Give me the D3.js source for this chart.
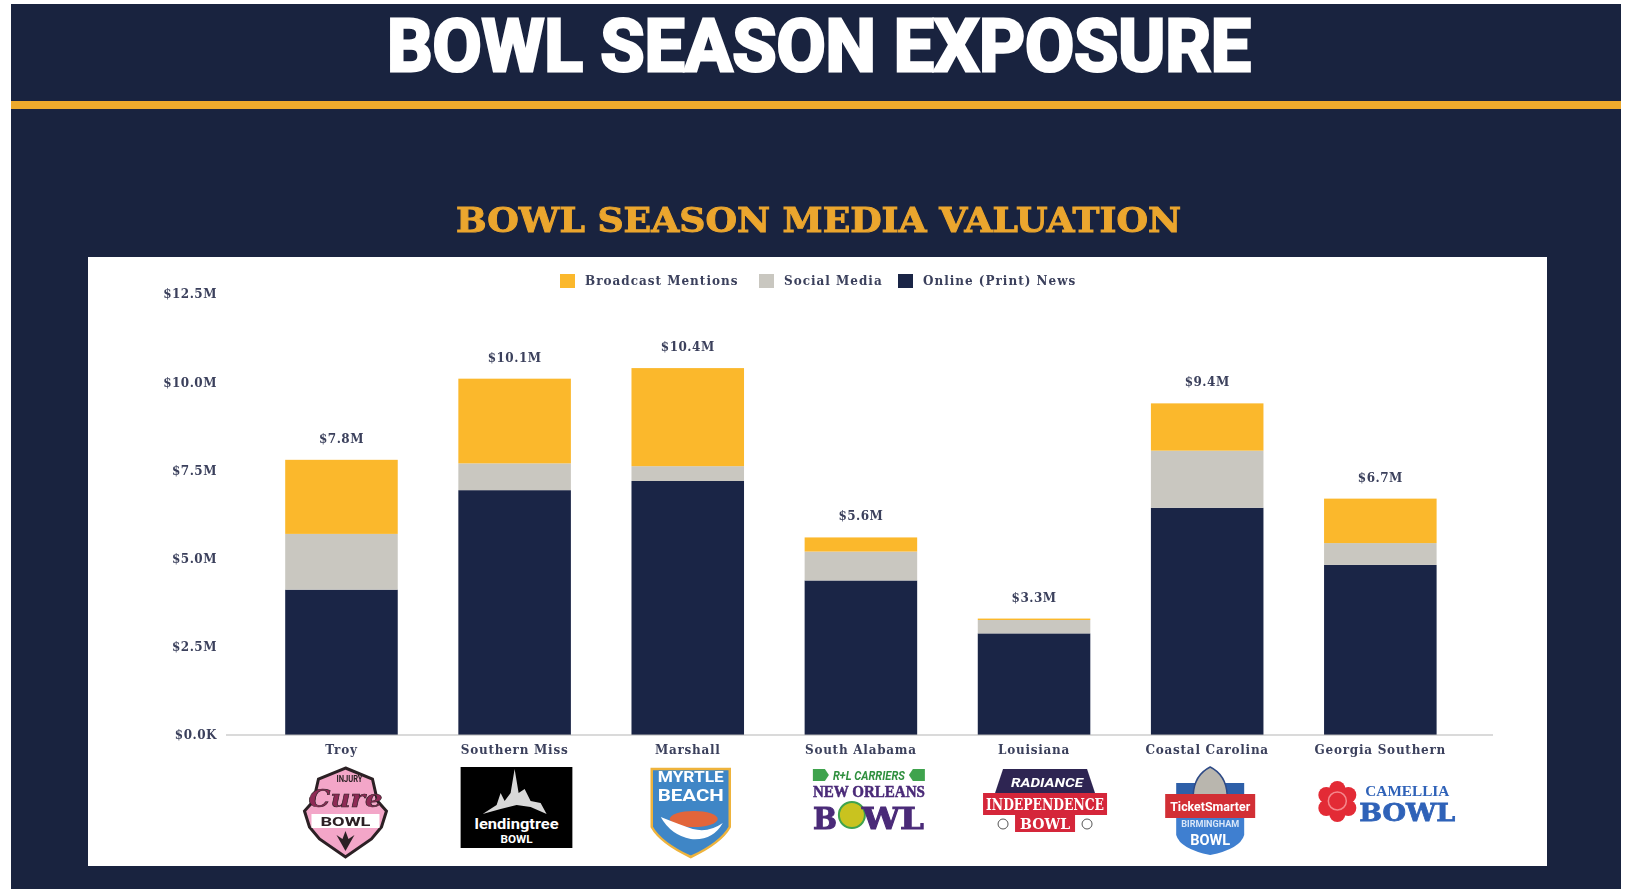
<!DOCTYPE html>
<html>
<head>
<meta charset="utf-8">
<script src="https://cdn.jsdelivr.net/npm/d3@7"></script>
<style>
  html, body { margin: 0; padding: 0; background: #fff; }
  svg { display: block; filter: blur(0.4px); }
  text { font-family: "DejaVu Serif", serif; }
</style>
</head>
<body>
<div id="chart"></div>
<script>
var categories = ["Troy", "Southern Miss", "Marshall", "South Alabama", "Louisiana", "Coastal Carolina", "Georgia Southern"];
var online = [4.12, 6.94, 7.2, 4.38, 2.88, 6.44, 4.82];
var social = [1.58, 0.76, 0.42, 0.82, 0.38, 1.62, 0.62];
var broadcast = [2.1, 2.4, 2.78, 0.4, 0.04, 1.34, 1.26];
var totalLabels = ["$7.8M", "$10.1M", "$10.4M", "$5.6M", "$3.3M", "$9.4M", "$6.7M"];
var seriesNames = ["Online (Print) News", "Social Media", "Broadcast Mentions"];
var legendOrder = ["Broadcast Mentions", "Social Media", "Online (Print) News"];
var tickValues = [0, 2.5, 5, 7.5, 10, 12.5];
var tickLabels = ["$0.0K", "$2.5M", "$5.0M", "$7.5M", "$10.0M", "$12.5M"];

var NAVY = "#19233f", BAR_NAVY = "#1a2546", GOLD = "#fbb82c", GRAY = "#c9c7c0", INK = "#3b405c";

var svg = d3.select("#chart").append("svg").attr("width", 1625).attr("height", 889);

/* Page background */
svg.append("rect").attr("x", 11).attr("y", 4).attr("width", 1610).attr("height", 885).attr("fill", NAVY);
svg.append("rect").attr("x", 11).attr("y", 101).attr("width", 1610).attr("height", 8).attr("fill", "#eeaa2c");
svg.append("rect").attr("x", 88).attr("y", 257).attr("width", 1459).attr("height", 609).attr("fill", "#fff");

svg.append("text").text("BOWL SEASON EXPOSURE")
  .attr("x", 387).attr("y", 70.5)
  .attr("textLength", 864).attr("lengthAdjust", "spacingAndGlyphs")
  .style("font-family", "Roboto").style("font-weight", 700).style("font-size", "72px")
  .attr("fill", "#fff").attr("stroke", "#fff").attr("stroke-width", 3);

svg.append("text").text("BOWL SEASON MEDIA VALUATION")
  .attr("x", 456).attr("y", 232)
  .attr("textLength", 725).attr("lengthAdjust", "spacingAndGlyphs")
  .style("font-weight", 700).style("font-size", "34px")
  .attr("fill", "#eba62e").attr("stroke", "#eba62e").attr("stroke-width", 1);

/* Scales */
var x = d3.scaleBand().domain(categories).range([254.9, 1466.9]).paddingInner(0.35).paddingOuter(0.175);
var y = d3.scaleLinear().domain([0, 12.5]).range([735, 294]);
var color = d3.scaleOrdinal().domain(seriesNames).range([BAR_NAVY, GRAY, GOLD]);

var rows = categories.map(function(c, i) {
  return { cat: c, "Online (Print) News": online[i], "Social Media": social[i], "Broadcast Mentions": broadcast[i], label: totalLabels[i] };
});
var stacked = d3.stack().keys(seriesNames)(rows);

/* Bars */
svg.append("g").selectAll("g").data(stacked).enter().append("g")
  .attr("fill", function(s) { return color(s.key); })
  .selectAll("rect").data(function(s) { return s; }).enter().append("rect")
  .attr("x", function(d) { return x(d.data.cat); })
  .attr("width", x.bandwidth())
  .attr("y", function(d) { return y(d[1]); })
  .attr("height", function(d) { return y(d[0]) - y(d[1]); });

/* Total labels */
svg.append("g").selectAll("text").data(stacked[2]).enter().append("text")
  .attr("x", function(d) { return x(d.data.cat) + x.bandwidth() / 2; })
  .attr("y", function(d) { return y(d[1]) - 17; })
  .attr("text-anchor", "middle")
  .style("font-size", "12px").style("font-weight", 700).style("letter-spacing", "0.5px")
  .attr("fill", INK)
  .text(function(d) { return d.data.label; });

/* Axes */
var yAxis = svg.append("g").attr("transform", "translate(217,0)")
  .call(d3.axisLeft(y).tickValues(tickValues).tickSize(0).tickPadding(0)
    .tickFormat(function(d, i) { return tickLabels[i]; }));
yAxis.select(".domain").remove();
yAxis.selectAll("text").style("font-size", "12px").style("font-weight", 700).attr("fill", INK)
  .style("font-family", '"DejaVu Serif", serif').style("letter-spacing", "0.5px");

var xAxis = svg.append("g").attr("transform", "translate(0,735)")
  .call(d3.axisBottom(x).tickSize(0).tickPadding(10));
xAxis.select(".domain").remove();
xAxis.selectAll("text").style("font-size", "12px").style("font-weight", 700).attr("fill", INK)
  .style("font-family", '"DejaVu Serif", serif').style("letter-spacing", "0.75px");

svg.append("line").attr("x1", 226).attr("x2", 1493).attr("y1", y(0)).attr("y2", y(0))
  .attr("stroke", "#b5b5b5").attr("stroke-width", 1);

/* Legend */
var legendX = d3.scaleOrdinal().domain(legendOrder).range([560, 759, 898]);
var legend = svg.append("g").selectAll("g").data(legendOrder).enter().append("g")
  .attr("transform", function(d) { return "translate(" + legendX(d) + ",274)"; });
legend.append("rect").attr("width", 15).attr("height", 14).attr("fill", function(d) { return color(d); });
legend.append("text").attr("x", 25).attr("y", 11)
  .style("font-size", "12px").style("font-weight", 700).style("letter-spacing", "1px").attr("fill", INK)
  .text(function(d) { return d; });

/* Logos, rough redraws placed under each bar */
function label(g, str, cx, by, size, fill, width, font, style) {
  var t = g.append("text").text(str).attr("x", cx).attr("y", by).attr("text-anchor", "middle")
    .attr("fill", fill).style("font-size", size + "px").style("font-weight", 700)
    .style("font-family", font || "Roboto");
  if (width) t.attr("textLength", width).attr("lengthAdjust", "spacingAndGlyphs");
  if (style) t.style("font-style", style);
  return t;
}
function logoGroup(cat, dx) {
  return svg.append("g").attr("transform", "translate(" + (x(cat) + x.bandwidth() / 2 + dx) + ",767)");
}

function cureLogo(g) {
  g.append("path").attr("d", "M0,1 L27,12 L32,34 L41,44 L36,60 L26,72 L0,90 L-26,72 L-36,60 L-41,44 L-32,34 L-27,12 Z")
    .attr("fill", "#f3a6c8").attr("stroke", "#2b2024").attr("stroke-width", 3);
  label(g, "INJURY", 4, 15, 9, "#2b2024", 26);
  label(g, "Cure", 0, 40, 24, "#8e2a55", 74, '"DejaVu Serif", serif', "italic").attr("stroke", "#2b2024").attr("stroke-width", 0.6);
  g.append("rect").attr("x", -34).attr("y", 47).attr("width", 68).attr("height", 14).attr("fill", "#fff");
  label(g, "BOWL", 0, 59, 13, "#2b2024", 50);
  g.append("path").attr("d", "M0,84 L-9,68 L-3,72 L0,64 L3,72 L9,68 Z").attr("fill", "#2b2024");
}
function lendingLogo(g) {
  g.append("rect").attr("x", -56).attr("y", 0).attr("width", 112).attr("height", 81).attr("fill", "#000");
  g.append("path").attr("d", "M-34,47 L-20,38 L-16,26 L-12,34 L-6,26 L-2,2 L2,26 L8,22 L14,34 L24,36 L30,47 L14,40 L0,38 L-16,42 Z").attr("fill", "#d8d8d8");
  label(g, "lendingtree", 0, 62, 15, "#fff", 84);
  label(g, "BOWL", 0, 76, 10, "#fff", 32);
}
function myrtleLogo(g) {
  g.append("path").attr("d", "M-39,2 L39,2 L39,60 Q30,76 0,90 Q-30,76 -39,60 Z")
    .attr("fill", "#3f86c6").attr("stroke", "#eeb33c").attr("stroke-width", 2.5);
  label(g, "MYRTLE", 0, 15, 15, "#fff", 66);
  label(g, "BEACH", 0, 34, 16, "#fff", 66);
  g.append("ellipse").attr("cx", 3).attr("cy", 52).attr("rx", 24).attr("ry", 8).attr("fill", "#e2653a");
  g.append("path").attr("d", "M-30,50 Q-10,58 2,62 Q18,66 32,56 Q22,74 0,72 Q-20,68 -30,50 Z").attr("fill", "#fff");
}
function newOrleansLogo(g) {
  g.append("path").attr("d", "M-56,2 L-44,2 L-40,8 L-44,14 L-56,14 Z").attr("fill", "#3fa34d");
  g.append("path").attr("d", "M56,2 L44,2 L40,8 L44,14 L56,14 Z").attr("fill", "#3fa34d");
  label(g, "R+L CARRIERS", 0, 13, 12, "#2f8f3e", 72, "Roboto", "italic");
  label(g, "NEW ORLEANS", 0, 30, 16, "#4a2a78", 112, "Liberation Sans Narrow").attr("stroke", "#4a2a78").attr("stroke-width", 0.5);
  label(g, "B", -44, 62, 30, "#4a2a78", 24, '"DejaVu Serif", serif').attr("stroke", "#4a2a78").attr("stroke-width", 1);
  g.append("circle").attr("cx", -17).attr("cy", 48).attr("r", 13).attr("fill", "#c9c31f").attr("stroke", "#3fa34d").attr("stroke-width", 2);
  label(g, "WL", 24, 62, 30, "#4a2a78", 62, '"DejaVu Serif", serif').attr("stroke", "#4a2a78").attr("stroke-width", 1);
}
function independenceLogo(g) {
  g.append("path").attr("d", "M-42,2 L42,2 L50,26 L-50,26 Z").attr("fill", "#2e2552");
  label(g, "RADIANCE", 2, 20, 12, "#fff", 72, "Roboto", "italic");
  g.append("rect").attr("x", -62).attr("y", 26).attr("width", 124).attr("height", 22).attr("fill", "#d5263a");
  label(g, "INDEPENDENCE", 0, 43, 17, "#fff", 118, '"DejaVu Serif", serif');
  g.append("rect").attr("x", -30).attr("y", 48).attr("width", 60).attr("height", 17).attr("fill", "#d5263a");
  label(g, "BOWL", 0, 62, 15, "#fff", 50, '"DejaVu Serif", serif');
  [-42, 42].forEach(function(cx) {
    g.append("circle").attr("cx", cx).attr("cy", 57).attr("r", 5).attr("fill", "#fff").attr("stroke", "#555").attr("stroke-width", 1);
  });
}
function birminghamLogo(g) {
  g.append("rect").attr("x", -34).attr("y", 16).attr("width", 68).attr("height", 14).attr("fill", "#2e5fa8");
  g.append("path").attr("d", "M0,0 Q16,8 17,28 L-17,28 Q-16,8 0,0 Z").attr("fill", "#b9b6ae").attr("stroke", "#2e4a86").attr("stroke-width", 1.5);
  g.append("path").attr("d", "M-34,50 L34,50 L34,68 Q30,82 0,88 Q-30,82 -34,68 Z").attr("fill", "#3f7fd0");
  g.append("rect").attr("x", -45).attr("y", 27).attr("width", 90).attr("height", 24).attr("fill", "#d22f35");
  label(g, "TicketSmarter", 0, 44, 13, "#fff", 80);
  label(g, "BIRMINGHAM", 0, 60, 9, "#d8e6f8", 58);
  label(g, "BOWL", 0, 78, 15, "#fff", 40);
}
function camelliaLogo(g) {
  [[-49, 22], [-60, 28], [-38, 28], [-60, 41], [-38, 41], [-49, 47]].forEach(function(p) {
    g.append("circle").attr("cx", p[0]).attr("cy", p[1]).attr("r", 8).attr("fill", "#e32b36");
  });
  g.append("circle").attr("cx", -49).attr("cy", 34).attr("r", 15).attr("fill", "#e32b36");
  g.append("circle").attr("cx", -49).attr("cy", 34).attr("r", 9).attr("fill", "none").attr("stroke", "#f5878c").attr("stroke-width", 1.5);
  label(g, "CAMELLIA", 21, 29, 15, "#2f62b8", 84, "Liberation Sans Narrow");
  label(g, "BOWL", 21, 54, 25, "#2f62b8", 96, '"DejaVu Serif", serif').attr("stroke", "#2f62b8").attr("stroke-width", 0.8);
}

cureLogo(logoGroup("Troy", 4));
lendingLogo(logoGroup("Southern Miss", 2));
myrtleLogo(logoGroup("Marshall", 3));
newOrleansLogo(logoGroup("South Alabama", 8));
independenceLogo(logoGroup("Louisiana", 11));
birminghamLogo(logoGroup("Coastal Carolina", 3));
camelliaLogo(logoGroup("Georgia Southern", 6));
</script>
</body>
</html>
